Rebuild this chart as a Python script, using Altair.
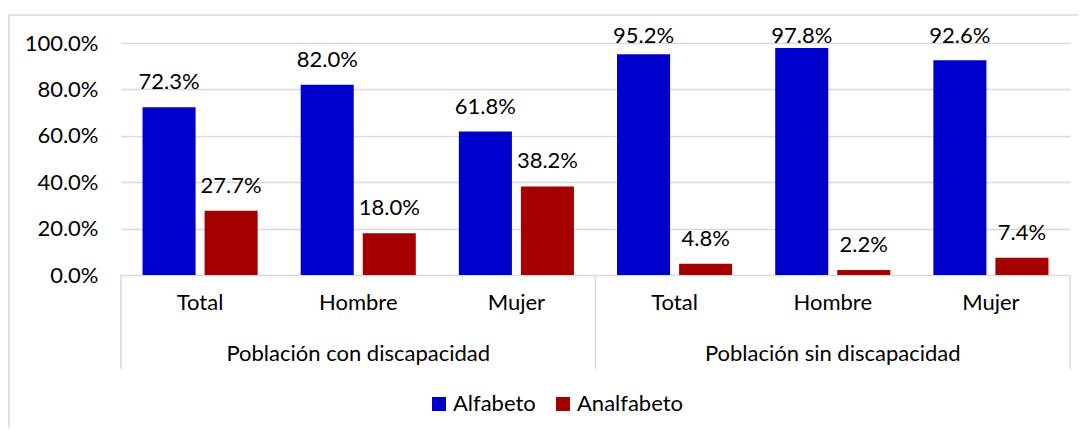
import altair as alt
import pandas as pd

groups = ["Población con discapacidad", "Población sin discapacidad"]
subcats = ["Total", "Hombre", "Mujer"]
series = ["Alfabeto", "Analfabeto"]
alfabeto = [0.723, 0.820, 0.618, 0.952, 0.978, 0.926]
analfabeto = [0.277, 0.180, 0.382, 0.048, 0.022, 0.074]
colors = ["#0000CC", "#A50000"]

keys = [f"{g}|{s}" for g in groups for s in subcats]

rows = []
for i, k in enumerate(keys):
    rows.append({"key": k, "serie": series[0], "value": alfabeto[i]})
    rows.append({"key": k, "serie": series[1], "value": analfabeto[i]})
df = pd.DataFrame(rows)

grp_df = pd.DataFrame({"key": [f"{g}|Hombre" for g in groups], "label": groups})
sep_start = pd.DataFrame({"key": [f"{g}|Total" for g in groups]})
sep_end = pd.DataFrame({"key": [keys[-1]]})
dummy = pd.DataFrame({"a": [0]})

FONT = "Lato"
FS = 22
GRID = "#d9d9d9"
W, H = 949, 232

xscale = alt.Scale(domain=keys, paddingInner=0, paddingOuter=0)
xoff = alt.XOffset("serie:N", sort=series,
                   scale=alt.Scale(domain=series, paddingInner=0.145, paddingOuter=0.347))

x_enc = alt.X("key:N", sort=keys, scale=xscale,
              axis=alt.Axis(title=None, labelExpr="split(datum.label, '|')[1]",
                            labelAngle=0, domain=False, ticks=False,
                            labelPadding=17, labelBaseline="top",
                            labelFont=FONT, labelFontSize=FS, labelColor="#000000"))
y_enc = alt.Y("value:Q", scale=alt.Scale(domain=[0, 1]),
              axis=alt.Axis(title=None, format=".1%", values=[0, 0.2, 0.4, 0.6, 0.8, 1.0],
                            domain=False, ticks=False, labelPadding=23,
                            labelFont=FONT, labelFontSize=FS, labelColor="#000000",
                            grid=True, gridColor=GRID, gridWidth=1.5))

bars = alt.Chart(df).mark_bar().encode(
    x=x_enc, y=y_enc, xOffset=xoff,
    color=alt.Color("serie:N", sort=series,
                    scale=alt.Scale(domain=series, range=colors),
                    legend=alt.Legend(title=None, orient="none", direction="horizontal",
                                      legendX=307, legendY=350,
                                      symbolType="square", symbolSize=196,
                                      symbolStrokeWidth=0, labelFont=FONT,
                                      labelFontSize=FS, labelColor="#000000",
                                      labelOffset=3, columnPadding=16)),
)

labels = alt.Chart(df).transform_calculate(
    ly="min(datum.value, 0.922)"
).mark_text(font=FONT, fontSize=FS, color="#000000", baseline="alphabetic", dy=-18).encode(
    x=alt.X("key:N", sort=keys, scale=xscale),
    xOffset=xoff,
    y=alt.Y("ly:Q", scale=alt.Scale(domain=[0, 1])),
    text=alt.Text("value:Q", format=".1%"),
)

grp_labels = alt.Chart(grp_df).mark_text(font=FONT, fontSize=FS, color="#000000",
                                         baseline="alphabetic").encode(
    x=alt.X("key:N", sort=keys, scale=xscale),
    y=alt.value(318),
    text="label:N",
)

sep1 = alt.Chart(sep_start).mark_rule(color=GRID, strokeWidth=1.5).encode(
    x=alt.X("key:N", sort=keys, scale=xscale, bandPosition=0),
    y=alt.value(H), y2=alt.value(326),
)
sep2 = alt.Chart(sep_end).mark_rule(color=GRID, strokeWidth=1.5).encode(
    x=alt.X("key:N", sort=keys, scale=xscale, bandPosition=1),
    y=alt.value(H), y2=alt.value(326),
)

border_left = alt.Chart(dummy).mark_rule(color=GRID, strokeWidth=1.5).encode(
    x=alt.value(-112), y=alt.value(-28), y2=alt.value(420))
border_top = alt.Chart(dummy).mark_rule(color=GRID, strokeWidth=1.5).encode(
    x=alt.value(-112), x2=alt.value(980), y=alt.value(-28))

chart = alt.layer(border_left, border_top, bars, labels, grp_labels, sep1, sep2).properties(
    width=W, height=H,
    autosize=alt.AutoSizeParams(type="none"),
    padding={"left": 113, "top": 35, "right": 8, "bottom": 153},
    background="#ffffff",
).configure_view(stroke=None)

chart.save("out.html", embed_options={"renderer": "svg", "actions": False})
